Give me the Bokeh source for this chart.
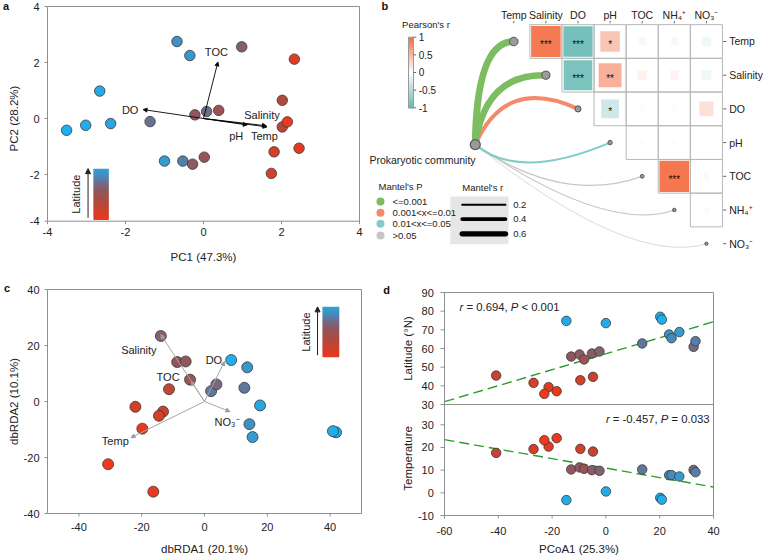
import numpy as np
from bokeh.plotting import figure
from bokeh.models import Range1d, Arrow, NormalHead
from bokeh.layouts import row, column
from bokeh.embed import file_html
from bokeh.resources import INLINE
from bokeh.core.properties import value

FONT = "Liberation Sans"
FRAME = "#8f8f8f"
TXT = "#222222"

# ---------------- data: panel a (PCA) ----------------
pca_pc1 = [-3.51, -3.02, -2.66, -2.38, -1.37, -1.00, -0.68, -0.35, -0.53, -0.28, 0.02,
           -0.22, 0.08, 0.39, 0.98, 2.33, 2.02, 2.02, 2.15, 1.81, 2.45, 1.74]
pca_pc2 = [-0.42, -0.24, 0.98, -0.18, -0.11, -1.52, 2.75, 2.25, -1.52, -1.63, -1.38,
           0.13, 0.25, 0.29, 2.56, 2.12, 0.65, -0.30, -0.12, -1.19, -1.06, -1.96]
pca_lat = [76, 75, 73, 72, 62, 69, 67, 68, 64, 57, 55, 56, 61, 54, 58, 40, 50, 48, 36, 42, 39, 43]
pca_vars = ["TOC", "DO", "Salinity", "pH", "Temp"]
pca_load1 = [0.37, -1.55, 1.61, 1.12, 1.63]
pca_load2 = [2.02, 0.32, -0.26, -0.23, -0.30]
pca_lab1 = [0.33, -1.88, 1.50, 0.84, 1.56]
pca_lab2 = [2.39, 0.31, 0.12, -0.61, -0.61]
pca_xticks = [-4, -2, 0, 2, 4]
pca_yticks = [-3.667, -2, 0, 2, 4]
pca_yticklabels = ["-4", "-2", "0", "2", "4"]

# ---------------- data: panel b (correlation + Mantel) ----------------
env_vars = ["Temp", "Salinity", "DO", "pH", "TOC", "NH\u2084\u207a", "NO\u2083\u207b"]
pearson_upper = [
    [0.92, -0.90, 0.40, 0.06, 0.06, -0.09],
    [-0.86, 0.55, 0.09, 0.08, -0.10],
    [-0.33, -0.03, -0.03, 0.21],
    [0.03, 0.03, -0.02],
    [0.93, -0.05],
    [-0.04],
]
pearson_sig = [
    ["***", "***", "*", "", "", ""],
    ["***", "**", "", "", ""],
    ["*", "", "", ""],
    ["", "", ""],
    ["***", ""],
    [""],
]
mantel_r = [0.80, 0.74, 0.45, 0.20, 0.11, 0.08, 0.03]
mantel_p = ["<=0.001", "<=0.001", "0.001<x<=0.01", "0.01<x<=0.05", ">0.05", ">0.05", ">0.05"]
p_classes = ["<=0.001", "0.001<x<=0.01", "0.01<x<=0.05", ">0.05"]
legend_r = [0.2, 0.4, 0.6]
cb_ticks = [1, 0.5, 0, -0.5, -1]

# ---------------- data: panel c (dbRDA) ----------------
rda_x = [-13.9, -8.7, -6.0, -4.6, -11.3, -22.0, -13.2, -14.5, -19.8, -30.7, -16.3,
         2.1, 3.8, 8.5, 13.6, 12.7, 17.7, 14.3, 15.3, 41.9, 40.9]
rda_y = [23.4, 14.1, 14.3, 7.8, 4.4, -1.9, -3.6, -5.1, -9.7, -22.4, -32.2,
         3.7, 6.1, 14.8, 12.2, 4.9, -1.4, -8.1, -12.7, -11.0, -10.6]
rda_lat = [58, 55, 56, 54, 46, 42, 43, 41, 39, 36, 37, 63, 60, 76, 68, 63, 72, 67, 69, 73, 76]
rda_vars = ["Salinity", "TOC", "DO", "NO\u2083\u207b", "Temp"]
rda_load1 = [-13.9, -4.2, 6.4, 8.1, -23.4]
rda_load2 = [23.9, 7.2, 14.3, -3.6, -12.9]
rda_lab1 = [-20.9, -11.6, 3.0, 7.2, -28.4]
rda_lab2 = [18.4, 8.8, 14.9, -7.2, -14.1]
rda_ticks = [-40, -20, 0, 20, 40]

# ---------------- data: panel d ----------------
d_pcoa1 = [-40.8, -26.9, -21.3, -22.9, -18.3, -14.7, -12.9, -9.8, -9.5, -8.1, -5.2,
           -4.8, -2.4, 0.0, 13.5, 20.2, 20.8, 23.5, 24.4, 27.3, 32.6, 33.3]
d_lat = [45.5, 41.6, 39.3, 35.7, 37.1, 74.8, 55.7, 56.8, 43.0, 54.1, 57.3,
         44.8, 58.4, 73.6, 62.7, 77.0, 75.5, 67.5, 65.5, 68.8, 60.9, 63.9]
d_temp = [17.6, 19.3, 20.4, 23.2, 24.1, -3.2, 10.3, 11.2, 19.4, 10.6, 10.0,
          18.2, 9.7, 0.6, 10.3, -2.2, -3.0, 7.8, 7.8, 7.2, 10.1, 9.1]
fit_lat = (0.428, 57.2)     # slope, intercept
fit_temp = (-0.209, 10.9)
d_xticks = [-60, -40, -20, 0, 20, 40]
temp_ticks = [-10, 0, 10, 20, 30]
lat_ticks = [30, 40, 50, 60, 70, 80, 90]
stat_lat = [("r", True), (" = 0.694, ", False), ("P", True), (" < 0.001", False)]
stat_temp = [("r", True), (" = -0.457, ", False), ("P", True), (" = 0.033", False)]

# ---------------- colours ----------------
LAT_STOPS = [(35, (242, 56, 24)), (42, (214, 62, 40)), (50, (172, 74, 64)), (56, (146, 86, 92)),
             (61, (112, 108, 134)), (65, (72, 134, 184)), (70, (48, 160, 216)), (76, (30, 176, 238))]
PEAR_STOPS = [(-1, (102, 185, 178)), (0, (255, 255, 255)), (1, (244, 109, 67))]
P_COLORS = {"<=0.001": "#7dbd61", "0.001<x<=0.01": "#f5896b",
            "0.01<x<=0.05": "#7fcdc5", ">0.05": "#c6c6c6"}


def ramp(vals, stops):
    xs = [s[0] for s in stops]
    out = []
    for v in vals:
        rgb = [int(round(np.interp(v, xs, [s[1][k] for s in stops]))) for k in range(3)]
        out.append("#%02x%02x%02x" % tuple(rgb))
    return out


def canvas(width, height, box, xlim, ylim):
    """Frameless figure whose data box (xlim, ylim) sits at pixel box (L, R, T, B)."""
    L, R, T, B = box
    dx = (xlim[1] - xlim[0]) / (R - L)
    dy = (ylim[1] - ylim[0]) / (B - T)
    p = figure(width=width, height=height,
               x_range=Range1d(xlim[0] - L * dx, xlim[1] + (width - R) * dx),
               y_range=Range1d(ylim[0] - (height - B) * dy, ylim[1] + T * dy),
               x_axis_type=None, y_axis_type=None, min_border=0, frame_align=False,
               output_backend="svg", toolbar_location=None)
    p.outline_line_color = None
    return p, dx, dy


def add_text(p, xs, ys, texts, size=11, align="center", baseline="middle", angle=0.0,
             style="normal", color=TXT, **kw):
    p.text(x=list(xs), y=list(ys), text=list(texts), text_font=value(FONT),
           text_font_size=value("%gpx" % size), text_align=align, text_baseline=baseline,
           angle=angle, text_font_style=style, text_color=color, **kw)


def x_axis(p, ticks, labels, y0, dy, label_gap=10.5, tick=3):
    n = len(ticks)
    p.segment(x0=ticks, y0=[y0] * n, x1=ticks, y1=[y0 - tick * dy] * n, line_color=FRAME, line_width=1)
    add_text(p, ticks, [y0 - label_gap * dy] * n, labels)


def y_axis(p, ticks, labels, x0, dx, label_gap=8, tick=3, **kw):
    n = len(ticks)
    p.segment(x0=[x0] * n, y0=ticks, x1=[x0 - tick * dx] * n, y1=ticks, line_color=FRAME,
              line_width=1, **kw)
    add_text(p, [x0 - label_gap * dx] * n, ticks, labels, align="right", **kw)


def lat_bar(p, x0, x1, y0, y1, ax, tx, ty, lat_lo, lat_hi, steps=40):
    edges = np.linspace(y0, y1, steps + 1)
    lats = np.linspace(lat_lo, lat_hi, steps)
    step = (y1 - y0) / steps
    tops = edges[1:] + step * 0.6
    tops[-1] = y1
    p.quad(left=x0, right=x1, bottom=edges[:-1], top=tops,
           fill_color=ramp(lats, LAT_STOPS), line_color=None)
    p.add_layout(Arrow(end=NormalHead(size=5, fill_color="#222222", line_color="#222222"),
                       x_start=ax, y_start=y0 + (y1 - y0) * 0.04, x_end=ax, y_end=y1,
                       line_color="#222222", line_width=1))
    add_text(p, [tx], [ty], ["Latitude"], angle=np.pi / 2)


# ================= panel a =================
A_X, A_Y = (-4, 4), (-3.667, 4)
pa, adx, ady = canvas(365, 276, (47, 359, 6, 220.7), A_X, A_Y)
pa.quad(left=[A_X[0]], right=[A_X[1]], bottom=[A_Y[0]], top=[A_Y[1]], fill_color=None,
        line_color=FRAME, line_width=1)
x_axis(pa, pca_xticks, [str(t) for t in pca_xticks], A_Y[0], ady)
y_axis(pa, pca_yticks, pca_yticklabels, A_X[0], adx)
add_text(pa, [0], [A_Y[0] - 36 * ady], ["PC1 (47.3%)"], size=11.5)
add_text(pa, [A_X[0] - 33.7 * adx], [0], ["PC2 (28.2%)"], size=11.5, angle=np.pi / 2)
add_text(pa, [A_X[0] - 41.5 * adx], [A_Y[1] + 1 * ady], ["a"], size=11, style="bold", color="#111111")
pa.scatter(pca_pc1, pca_pc2, size=10.5, fill_color=ramp(pca_lat, LAT_STOPS),
           line_color="#3a3a3a", line_width=0.8)
for vx, vy in zip(pca_load1, pca_load2):
    pa.add_layout(Arrow(end=NormalHead(size=4, fill_color="black", line_color="black", line_width=0.8),
                        x_start=0, y_start=0, x_end=vx, y_end=vy, line_color="black", line_width=0.9))
add_text(pa, pca_lab1, pca_lab2, pca_vars)
lat_bar(pa, -2.82, -2.43, -3.62, -1.79, -2.96, -3.26, -2.70, 38, 70)

# ================= panel b =================
pb = figure(width=398, height=276, x_range=Range1d(-4.6199, 7.7788), y_range=Range1d(6.9733, -1.2166),
            output_backend="svg", toolbar_location=None, x_axis_type=None, y_axis_type=None,
            min_border=0, frame_align=False)
pb.outline_line_color = None
n = len(env_vars)
cx, cy, cr, cs = [], [], [], []
for i in range(n):
    for k, j in enumerate(range(i + 1, n)):
        cx.append(j)
        cy.append(i)
        cr.append(pearson_upper[i][k])
        cs.append(pearson_sig[i][k])
sq = [0.96 * np.sqrt(abs(r)) for r in cr]
pb.rect(x=cx, y=cy, width=sq, height=sq, fill_color=ramp(cr, PEAR_STOPS), line_color=None)
pb.rect(x=cx, y=cy, width=1, height=1, fill_color=None, line_color="#b8b8b8", line_width=1)
add_text(pb, cx, cy, cs, size=10, color="#111111", y_offset=3)

# Mantel links (control points are drawing style)
com_x, com_y = -1.2, 3.06
CURVE_CX = [-1.16, -0.90, -0.26, 0.15, 1.50, 2.88, 3.62]
CURVE_CY = [0.0, 0.95, 1.01, 4.15, 4.84, 5.70, 6.69]
lw = [0.4 + 8.2 * r for r in mantel_r]
order = list(range(n))[::-1]
pb.quadratic(x0=[com_x] * n, y0=[com_y] * n, x1=order, y1=order,
             cx=[CURVE_CX[k] for k in order], cy=[CURVE_CY[k] for k in order],
             line_color=[P_COLORS[mantel_p[k]] for k in order],
             line_width=[lw[k] for k in order], line_cap="round")
pb.scatter(x=list(range(n)), y=list(range(n)), size=[3 + 7 * r for r in mantel_r],
           fill_color="#9a9a9a", line_color="#555555", line_width=1)
pb.scatter(x=[com_x], y=[com_y], size=10, fill_color="#9a9a9a", line_color="#555555", line_width=1.2)
add_text(pb, [com_x + 0.01], [com_y + 0.47], ["Prokaryotic community"], size=10.5, align="right")

# axis-like labels
add_text(pb, range(n), [-0.79] * n, env_vars, size=10.5)
pb.segment(x0=list(range(n)), y0=[-0.61] * n, x1=list(range(n)), y1=[-0.54] * n,
           line_color="#666666", line_width=1)
add_text(pb, [6.71] * n, range(n), env_vars, size=10.5, align="left")
pb.segment(x0=[6.52] * n, y0=list(range(n)), x1=[6.62] * n, y1=list(range(n)),
           line_color="#666666", line_width=1)

# Pearson colour bar
cb_top, cb_bot = -0.128, 1.967
cb_steps = 60
rs = np.linspace(1, -1, cb_steps + 1)
ys = cb_top + (1 - rs) / 2 * (cb_bot - cb_top)
pb.quad(left=-3.28, right=-3.125, top=ys[:-1], bottom=ys[1:] + 0.02,
        fill_color=ramp((rs[:-1] + rs[1:]) / 2, PEAR_STOPS), line_color=None)
pb.quad(left=[-3.28], right=[-3.125], top=[cb_top], bottom=[cb_bot], fill_color=None,
        line_color="#9a9a9a", line_width=1)
tick_y = [cb_top + (1 - t) / 2 * (cb_bot - cb_top) for t in cb_ticks]
pb.segment(x0=[-3.125] * 5, y0=tick_y, x1=[-3.04] * 5, y1=tick_y, line_color="#666666")
add_text(pb, [-2.96] * 5, tick_y, [("%g" % t) for t in cb_ticks], size=10, align="left")
add_text(pb, [-3.48], [-0.50], ["Pearson's r"], size=9.5, align="left")

# Mantel legends
pb.quad(left=[-1.978], right=[-0.165], top=[4.60], bottom=[6.02], fill_color="#e6e6e6", line_color=None)
add_text(pb, [-4.215], [4.30], ["Mantel's P"], size=9.5, align="left")
leg_y = [4.75, 5.08, 5.41, 5.76]
pb.scatter(x=[-4.153] * 4, y=leg_y, size=8, fill_color=[P_COLORS[c] for c in p_classes], line_color=None)
add_text(pb, [-3.78] * 4, leg_y, p_classes, size=9.5, align="left")
add_text(pb, [-0.966], [4.32], ["Mantel's r"], size=9.5)
lr_y = [4.846, 5.27, 5.706]
pb.segment(x0=[-1.607] * 3, y0=lr_y, x1=[-0.259] * 3, y1=lr_y, line_color="black",
           line_width=[0.4 + 8.2 * r for r in legend_r], line_cap="round")
add_text(pb, [-0.02] * 3, lr_y, [("%.1f" % r) for r in legend_r], size=9.5, align="left")
add_text(pb, [-4.12], [-1.04], ["b"], size=11, align="left", style="bold", color="#111111")

# ================= panel c =================
C_X, C_Y = (-50, 50), (-40, 40)
pc, cdx, cdy = canvas(380, 279, (47, 361, 13, 237), C_X, C_Y)
pc.quad(left=[C_X[0]], right=[C_X[1]], bottom=[C_Y[0]], top=[C_Y[1]], fill_color=None,
        line_color=FRAME, line_width=1)
x_axis(pc, rda_ticks, [str(t) for t in rda_ticks], C_Y[0], cdy, label_gap=13.7)
y_axis(pc, rda_ticks, [str(t) for t in rda_ticks], C_X[0], cdx)
add_text(pc, [0], [C_Y[0] - 35 * cdy], ["dbRDA1 (20.1%)"], size=11.5)
add_text(pc, [C_X[0] - 33.7 * cdx], [0], ["dbRDA2 (10.1%)"], size=11.5, angle=np.pi / 2)
add_text(pc, [C_X[0] - 40.5 * cdx], [C_Y[1] + 2 * cdy], ["c"], size=11, style="bold", color="#111111")
for vx, vy in zip(rda_load1, rda_load2):
    pc.add_layout(Arrow(end=NormalHead(size=4, fill_color="#9c9c9c", line_color="#9c9c9c"),
                        x_start=0, y_start=0, x_end=vx, y_end=vy, line_color="#a6a6a6", line_width=1))
pc.scatter(rda_x, rda_y, size=11, fill_color=ramp(rda_lat, LAT_STOPS), line_color="#3a3a3a", line_width=0.8)
add_text(pc, rda_lab1, rda_lab2, rda_vars)
lat_bar(pc, 37.6, 42.9, 15.8, 33.8, 36.0, 32.3, 24.8, 38, 70)

# ================= panel d =================
D_X = (-60, 40)
T_Y = (-10, 38.95)
L_Y = (30, 90)
D_L, D_R, D_T, D_SPLIT, D_B, D_H = 64, 333, 16, 128, 239, 279
pd, ddx, ddy = canvas(383, D_H, (D_L, D_R, D_SPLIT, D_B), D_X, T_Y)
dyl = (L_Y[1] - L_Y[0]) / (D_SPLIT - D_T)
pd.extra_y_ranges = {"lat": Range1d(L_Y[0] - (D_H - D_SPLIT) * dyl, L_Y[1] + D_T * dyl)}
top_t = T_Y[1] + (D_SPLIT - D_T) * ddy
pd.quad(left=[D_X[0]], right=[D_X[1]], bottom=[T_Y[0]], top=[top_t], fill_color=None,
        line_color=FRAME, line_width=1)
pd.segment(x0=[D_X[0]], y0=[T_Y[1]], x1=[D_X[1]], y1=[T_Y[1]], line_color=FRAME, line_width=1)
x_axis(pd, d_xticks, [str(t) for t in d_xticks], T_Y[0], ddy, label_gap=15)
y_axis(pd, temp_ticks, [str(t) for t in temp_ticks], D_X[0], ddx, label_gap=10.7, tick=4)
y_axis(pd, lat_ticks, [str(t) for t in lat_ticks], D_X[0], ddx, label_gap=10.7, tick=4,
       y_range_name="lat")
add_text(pd, [-10], [T_Y[0] - 33 * ddy], ["PCoA1 (25.3%)"], size=11.5)
add_text(pd, [D_X[0] - 36.3 * ddx], [60], ["Latitude (\u00b0N)"], size=11.5, angle=np.pi / 2,
         y_range_name="lat")
add_text(pd, [D_X[0] - 36.3 * ddx], [15.2], ["Temperature"], size=11.5, angle=np.pi / 2)
add_text(pd, [D_X[0] - 58 * ddx], [L_Y[1] + 3 * dyl], ["d"], size=11, style="bold", color="#111111",
         y_range_name="lat")

dcol = ramp(d_lat, LAT_STOPS)
xs_fit = np.array(D_X, dtype=float)
pd.line(xs_fit, fit_lat[0] * xs_fit + fit_lat[1], y_range_name="lat", line_color="#2f9a2f",
        line_width=1.4, line_dash="10 5")
pd.line(xs_fit, fit_temp[0] * xs_fit + fit_temp[1], line_color="#2f9a2f", line_width=1.4, line_dash="10 5")
pd.scatter(d_pcoa1, d_lat, y_range_name="lat", size=9.5, fill_color=dcol, line_color="#3a3a3a", line_width=0.8)
pd.scatter(d_pcoa1, d_temp, size=9.5, fill_color=dcol, line_color="#3a3a3a", line_width=0.8)

WID = {" ": 0.278, "=": 0.584, "<": 0.584, "-": 0.333, ",": 0.278, ".": 0.278, "r": 0.333, "P": 0.667}


def rich(p, x, y, pieces, size, **kw):
    off = 0.0
    for txt, ital in pieces:
        lead = len(txt) - len(txt.lstrip(" "))
        shown = txt.strip(" ")
        p.text(x=[x], y=[y], text=[shown], x_offset=off + lead * WID[" "] * size, text_font=value(FONT),
               text_font_size=value("%gpx" % size), text_font_style="italic" if ital else "normal",
               text_color=TXT, text_align="left", text_baseline="middle", **kw)
        off += sum(WID.get(ch, 0.556) for ch in txt) * size


rich(pd, -54.4, 82.5, stat_lat, 11.3, y_range_name="lat")
rich(pd, 0.0, 32.6, stat_temp, 11.3)

layout = column(row(pa, pb), row(pc, pd))
open("out.html", "w").write(file_html(layout, INLINE))
